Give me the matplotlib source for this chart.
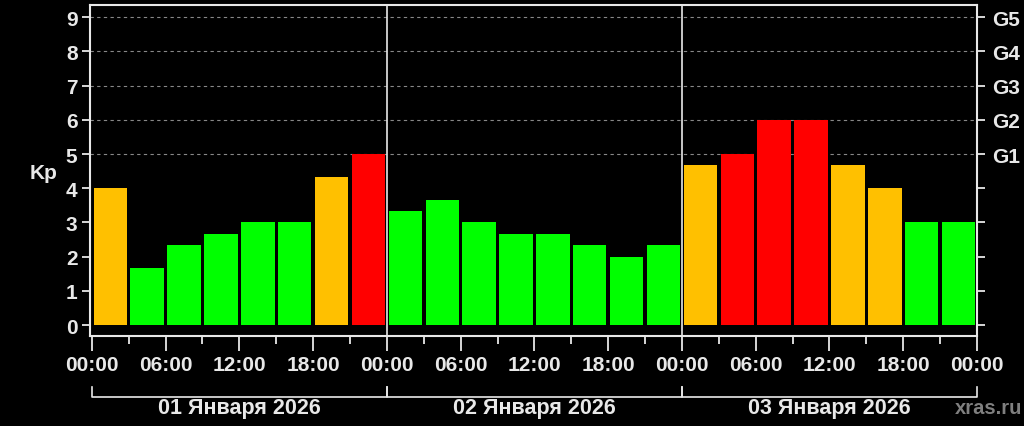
import matplotlib.pyplot as plt
import matplotlib.transforms as mtransforms
from matplotlib.ticker import MultipleLocator, FixedLocator

plt.rcParams['font.family'] = ['Liberation Sans', 'DejaVu Sans']
plt.rcParams['font.weight'] = 'bold'

# Kp index, 3-hour intervals over three days
hours = list(range(0, 72, 3))
kp = [4.0, 1.67, 2.33, 2.67, 3.0, 3.0, 4.33, 5.0,
      3.33, 3.67, 3.0, 2.67, 2.67, 2.33, 2.0, 2.33,
      4.67, 5.0, 6.0, 6.0, 4.67, 4.0, 3.0, 3.0]
days = ["01 Января 2026", "02 Января 2026", "03 Января 2026"]
g_levels = [5, 6, 7, 8, 9]
g_labels = ["G1", "G2", "G3", "G4", "G5"]


def kp_color(v):
    if v >= 5:
        return "#ff0000"
    if v >= 4:
        return "#ffc000"
    return "#00ff00"


fig = plt.figure(figsize=(10.24, 4.27), dpi=100, facecolor="black")
ax = fig.add_axes([0.0879, 0.2108, 0.8662, 0.7752])
ax.set_facecolor("black")

fg = "#e8e8e8"
fs = 15

# dashed grid only for storm levels
for g in g_levels:
    ax.axhline(g, color="#888888", lw=0.8, ls=(0, (3, 3)), zorder=0)

ax.bar([h + 1.5 for h in hours], kp, width=2.72,
       color=[kp_color(v) for v in kp], zorder=2)

# day separators
for d in (24, 48):
    ax.axvline(d, color=fg, lw=1.2, zorder=3)

ax.set_xlim(-0.15, 72)
ax.set_ylim(-0.32, 9.36)

for s in ax.spines.values():
    s.set_color(fg)
    s.set_linewidth(1.5)

ax.yaxis.set_major_locator(MultipleLocator(1))
ax.tick_params(axis="y", colors=fg, labelsize=fs, length=6, width=1.3,
               pad=3)
ax.set_ylabel("Kp", color=fg, fontsize=fs, fontweight="bold", rotation=0,
              va="center")
ax.yaxis.set_label_coords(-0.052, 0.495)

ax.set_xticks(list(range(0, 73, 6)))
ax.set_xticks(list(range(3, 72, 6)), minor=True)
ax.set_xticklabels(["%02d:00" % (h % 24) for h in range(0, 73, 6)])
ax.tick_params(axis="x", which="major", colors=fg, labelsize=fs,
               length=11, width=1.3, pad=3)
ax.tick_params(axis="x", which="minor", colors=fg, length=6, width=1.3)
for lab in ax.get_xticklabels() + ax.get_yticklabels():
    lab.set_fontweight("bold")

# right axis with G scale
ax2 = ax.twinx()
ax2.set_ylim(ax.get_ylim())
ax2.yaxis.set_major_locator(FixedLocator(range(10)))
ax2.set_yticklabels(["" if i < 5 else g_labels[i - 5] for i in range(10)],
                    fontweight="bold")
ax2.tick_params(axis="y", colors=fg, labelsize=fs, length=6, width=1.3,
                pad=5)
for s in ax2.spines.values():
    s.set_visible(False)

# day brackets under the time axis
trans = mtransforms.blended_transform_factory(ax.transData, ax.transAxes)
for i, name in enumerate(days):
    x0, x1 = 24 * i, 24 * (i + 1)
    ax.plot([x0, x0, x1, x1], [-0.155, -0.185, -0.185, -0.155],
            color=fg, lw=1.2, transform=trans, clip_on=False)
    ax.text((x0 + x1) / 2, -0.216, name, transform=trans, color=fg,
            fontsize=15.5, fontweight="bold", ha="center", va="center")

fig.text(0.998, 0.044, "xras.ru", color="#7f7f7f", fontsize=14.5,
         fontweight="bold", ha="right", va="center")

fig.savefig("out.png", dpi=100, facecolor="black")
